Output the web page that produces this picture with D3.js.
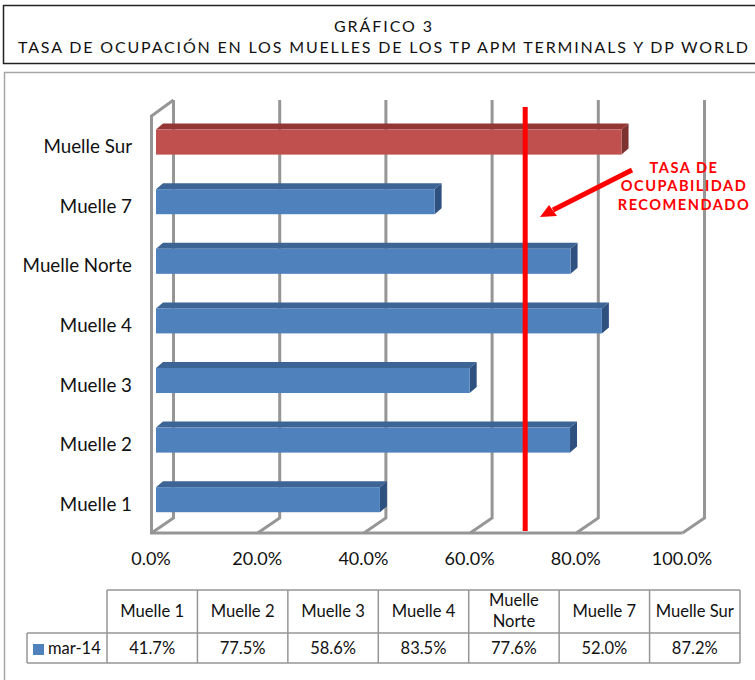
<!DOCTYPE html>
<html>
<head>
<meta charset="utf-8">
<script src="https://cdn.jsdelivr.net/npm/d3@7"></script>
<style>
  html, body { margin: 0; padding: 0; background: #fff; }
  text { font-family: Lato, sans-serif; fill: #111; }
</style>
</head>
<body>
<div id="chart"></div>
<script>
// Data
const categories = ["Muelle 1", "Muelle 2", "Muelle 3", "Muelle 4", "Muelle Norte", "Muelle 7", "Muelle Sur"];
const values = [41.7, 77.5, 58.6, 83.5, 77.6, 52.0, 87.2];
const seriesName = "mar-14";
const xTicks = [0, 20, 40, 60, 80, 100];
const threshold = 70;
const titleLines = ["GRÁFICO 3", "TASA DE OCUPACIÓN EN LOS MUELLES DE LOS TP APM TERMINALS Y DP WORLD"];
const noteLines = ["TASA DE", "OCUPABILIDAD", "RECOMENDADO"];

const width = 755;
const height = 680;
const depthX = 22, depthY = 15;   // depth of the 3D floor
const barDepthX = 7, barDepthY = 6;

const svg = d3.select("#chart")
  .append("svg")
  .attr("width", width)
  .attr("height", height)
  .style("display", "block");

// Title box
svg.append("rect")
  .attr("x", 3.5).attr("y", 5.5)
  .attr("width", 760).attr("height", 58)
  .attr("fill", "none").attr("stroke", "#222").attr("stroke-width", 1.5);

svg.selectAll(".title")
  .data(titleLines)
  .enter().append("text")
  .attr("class", "title")
  .attr("x", 383)
  .attr("y", (d, i) => 32 + i * 21)
  .attr("text-anchor", "middle")
  .attr("font-size", 16)
  .attr("textLength", (d, i) => i ? 730 : 98)
  .attr("lengthAdjust", "spacing")
  .text(d => d);

// Outer chart frame
svg.append("rect")
  .attr("x", 4.5).attr("y", 72.5)
  .attr("width", 770).attr("height", 640)
  .attr("fill", "none").attr("stroke", "#a6a6a6").attr("stroke-width", 1.5);

// Scales
const x = d3.scaleLinear().domain([0, 100]).range([151.5, 682.5]);

const y = d3.scaleBand()
  .domain(categories)
  .range([529.5, 112.3])
  .paddingInner(0.58)
  .paddingOuter(0.29);

const floorY = 533;
const wallTop = 100;
const wallColor = "#969696";

// Back wall gridlines with their floor diagonals
const grid = svg.append("g").attr("fill", "none").attr("stroke", wallColor).attr("stroke-width", 3);

grid.selectAll(".gridline")
  .data(xTicks)
  .enter().append("path")
  .attr("class", "gridline")
  .attr("d", d => `M${x(d)},${floorY}L${x(d) + depthX},${floorY - depthY}V${wallTop}`);

// Left wall and floor front edge
grid.append("path")
  .attr("d", `M${x(0) + depthX},${wallTop}L${x(0)},${wallTop + depthY + 1}V${floorY}H${x(100)}`);

// Bars
const bars = svg.selectAll(".bar")
  .data(categories.map((c, i) => ({ name: c, value: values[i] })))
  .enter().append("g")
  .attr("class", "bar");

const barLeft = 156;
const barEnd = d => x(d.value) + 7;
const isSur = d => d.name === "Muelle Sur";

bars.append("path")
  .attr("fill", d => isSur(d) ? "#943634" : "#3c6595")
  .attr("d", d => `M${barLeft},${y(d.name)}l${barDepthX},${-barDepthY}H${barEnd(d) + barDepthX}l${-barDepthX},${barDepthY}Z`);

bars.append("path")
  .attr("fill", d => isSur(d) ? "#7e3230" : "#2f5180")
  .attr("d", d => `M${barEnd(d)},${y(d.name)}l${barDepthX},${-barDepthY}v${y.bandwidth()}l${-barDepthX},${barDepthY}Z`);

bars.append("rect")
  .attr("x", barLeft)
  .attr("y", d => y(d.name))
  .attr("width", d => barEnd(d) - barLeft)
  .attr("height", y.bandwidth())
  .attr("fill", d => isSur(d) ? "#c0504d" : "#4f81bd");

// Category labels
svg.selectAll(".cat")
  .data(categories)
  .enter().append("text")
  .attr("class", "cat")
  .attr("x", 132)
  .attr("y", d => y(d) + y.bandwidth() / 2 + 11)
  .attr("text-anchor", "end")
  .attr("font-size", 18.8)
  .text(d => d);

// X axis labels
const xAxis = svg.append("g")
  .attr("transform", "translate(-1," + 552 + ")")
  .call(d3.axisBottom(x).tickValues(xTicks).tickSize(0).tickFormat(d => d.toFixed(1) + "%"));
xAxis.select(".domain").remove();
xAxis.selectAll("text")
  .attr("font-size", 18)
  .attr("dy", "0.72em")
  .attr("y", 0)
  .style("font-family", "Lato, sans-serif");

// Recommended rate line
svg.append("line")
  .attr("x1", x(threshold) + 2).attr("x2", x(threshold) + 2)
  .attr("y1", 107).attr("y2", 531)
  .attr("stroke", "#ff0000").attr("stroke-width", 5);

// Arrow and note
svg.append("line")
  .attr("x1", 632).attr("y1", 170)
  .attr("x2", 553).attr("y2", 210)
  .attr("stroke", "#ff0000").attr("stroke-width", 5);
svg.append("path")
  .attr("fill", "#ff0000")
  .attr("d", "M540,217L549,205L557,216Z");

svg.selectAll(".note")
  .data(noteLines)
  .enter().append("text")
  .attr("class", "note")
  .attr("x", 684)
  .attr("y", (d, i) => 173 + i * 18.3)
  .attr("text-anchor", "middle")
  .attr("font-size", 14.6)
  .attr("font-weight", 700)
  .attr("letter-spacing", "1.5px")
  .style("fill", "#ff0000")
  .text(d => d);

// Data table
const tableX = d3.scaleBand().domain(categories).range([107, 740]);
const tableTop = 590, tableMid = 633, tableBottom = 663, legendLeft = 27;
const tableColor = "#969696";

const tableLines = svg.append("g").attr("stroke", tableColor).attr("stroke-width", 1.5).attr("fill", "none");
tableLines.append("path").attr("d", `M107,${tableTop}H740M${legendLeft},${tableMid}H740M${legendLeft},${tableBottom}H740M${legendLeft},${tableMid}V${tableBottom}`);
tableLines.selectAll(".col")
  .data(categories)
  .enter().append("path")
  .attr("class", "col")
  .attr("d", d => `M${tableX(d)},${tableTop}V${tableBottom}`);
tableLines.append("path").attr("d", `M740,${tableTop}V${tableBottom}`);

const colCenter = d => tableX(d) + tableX.bandwidth() / 2;

svg.selectAll(".head")
  .data(categories.filter(d => d !== "Muelle Norte"))
  .enter().append("text")
  .attr("class", "head")
  .attr("x", colCenter)
  .attr("y", 617)
  .attr("text-anchor", "middle")
  .attr("font-size", 16.6)
  .text(d => d);

svg.selectAll(".headNorte")
  .data(["Muelle", "Norte"])
  .enter().append("text")
  .attr("class", "headNorte")
  .attr("x", colCenter("Muelle Norte"))
  .attr("y", (d, i) => 606 + i * 21)
  .attr("text-anchor", "middle")
  .attr("font-size", 16.6)
  .text(d => d);

svg.selectAll(".val")
  .data(values)
  .enter().append("text")
  .attr("class", "val")
  .attr("x", (d, i) => colCenter(categories[i]))
  .attr("y", 654)
  .attr("text-anchor", "middle")
  .attr("font-size", 16.5)
  .text(d => d.toFixed(1) + "%");

// Legend in the table
svg.append("rect")
  .attr("x", 33).attr("y", 644)
  .attr("width", 11).attr("height", 11)
  .attr("fill", "#4f81bd");
svg.append("text")
  .attr("x", 48).attr("y", 654)
  .attr("font-size", 16.5)
  .text(seriesName);
</script>
</body>
</html>
